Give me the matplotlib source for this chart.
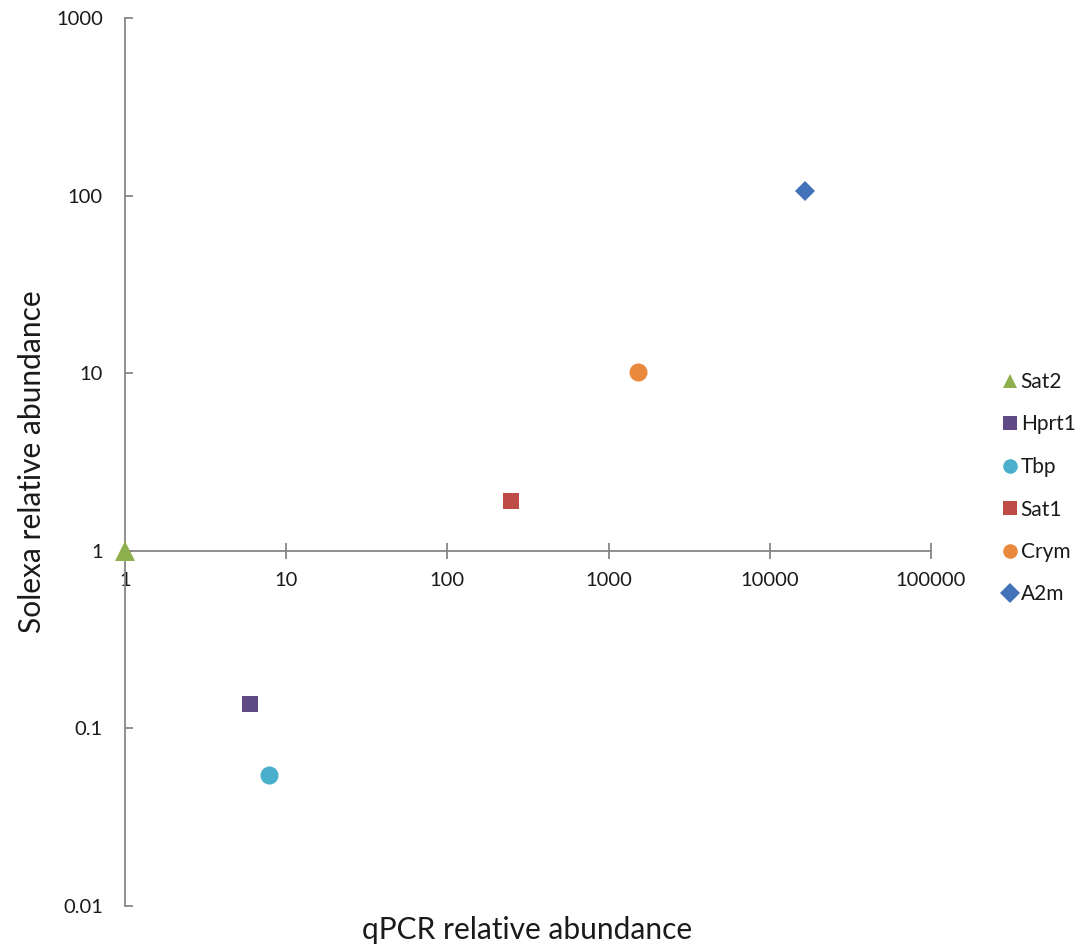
import matplotlib
matplotlib.use("Agg")
import matplotlib.pyplot as plt

plt.rcParams['font.family'] = ['Lato', 'DejaVu Sans']

genes = ["Sat2", "Hprt1", "Tbp", "Sat1", "Crym", "A2m"]
qpcr = [1, 6.0, 7.8, 248, 1520, 16500]
solexa = [1, 0.137, 0.0547, 1.91, 10.2, 106]
markers = ["^", "s", "o", "s", "o", "D"]
colors = ["#8FAE4E", "#5F4A86", "#4AAFCB", "#BE4B48", "#E8893C", "#4272B8"]
sizes = [14, 12, 13, 12, 13, 10]

xticks = [1, 10, 100, 1000, 10000, 100000]
xtick_labels = ["1", "10", "100", "1000", "10000", "100000"]
yticks = [0.01, 0.1, 1, 10, 100, 1000]
ytick_labels = ["0.01", "0.1", "1", "10", "100", "1000"]

fig = plt.figure(figsize=(10.79, 9.46), dpi=100)
ax = fig.add_axes([125/1079, 40/946, (931-125)/1079, (906-18)/946])
ax.set_xscale('log')
ax.set_yscale('log')
ax.set_xlim(1, 100000)
ax.set_ylim(0.01, 1000)

for g, x, y, m, c, s in zip(genes, qpcr, solexa, markers, colors, sizes):
    ax.plot([x], [y], linestyle='none', marker=m, color=c, markersize=s,
            markeredgewidth=0, label=g, clip_on=False, zorder=5)

spc = "#878787"
ax.spines['top'].set_visible(False)
ax.spines['right'].set_visible(False)
ax.spines['bottom'].set_position(('data', 1))
ax.spines['bottom'].set_color(spc)
ax.spines['left'].set_color(spc)
ax.spines['bottom'].set_linewidth(1.3)
ax.spines['left'].set_linewidth(1.3)

ax.set_xticks(xticks)
ax.set_xticklabels(xtick_labels)
ax.set_yticks(yticks)
ax.set_yticklabels(ytick_labels)
ax.minorticks_off()
ax.tick_params(axis='x', direction='inout', length=12, width=1.3, color=spc,
               labelsize=14.5, pad=9, labelcolor='#1a1a1a')
ax.tick_params(axis='y', direction='in', length=6, width=1.3, color=spc,
               labelsize=14.5, pad=16, labelcolor='#1a1a1a')

fig.text(32/1079, 1 - 462/946, "Solexa relative abundance", rotation=90,
         ha='center', va='center', fontsize=21.5, color='#1a1a1a')
fig.text(527/1079, 1 - 930/946, "qPCR relative abundance",
         ha='center', va='center', fontsize=21.5, color='#1a1a1a')

leg = ax.legend(loc='upper left', bbox_to_anchor=(1003/1079, 1 - 372/946),
                bbox_transform=fig.transFigure, frameon=False,
                handlelength=0.7, handletextpad=0.15, labelspacing=1.08,
                fontsize=15, borderaxespad=0, borderpad=0)
for h in leg.legend_handles:
    h.set_markersize(10.5)
for t in leg.get_texts():
    t.set_color('#1a1a1a')

fig.savefig("out.png", dpi=100)
